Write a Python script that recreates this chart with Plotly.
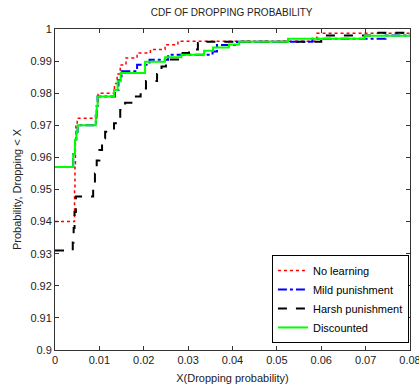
import plotly.graph_objects as go

# Step CDF data (x = dropping probability, p = CDF value after step)
x_no = [0, 0.0044, 0.0045, 0.0046, 0.0047, 0.0050, 0.0094, 0.0097, 0.0134, 0.0140,
        0.0147, 0.0160, 0.0185, 0.0215, 0.0248, 0.0277, 0.0590, 0.08]
p_no = [0.940, 0.950, 0.958, 0.965, 0.970, 0.9722, 0.976, 0.980, 0.983, 0.986,
        0.9888, 0.991, 0.9925, 0.9936, 0.9951, 0.9962, 0.9987, 0.9987]

x_mild = [0, 0.0041, 0.0045, 0.0048, 0.0051, 0.0092, 0.0094, 0.0096, 0.0135, 0.0143,
          0.0150, 0.0185, 0.0213, 0.0255, 0.0355, 0.0365, 0.0410, 0.0580, 0.0745, 0.08]
p_mild = [0.957, 0.961, 0.965, 0.968, 0.970, 0.973, 0.976, 0.979, 0.981, 0.984,
          0.9868, 0.9889, 0.9904, 0.992, 0.993, 0.995, 0.996, 0.997, 0.998, 0.998]

x_harsh = [0, 0.0040, 0.0042, 0.0044, 0.0047, 0.0086, 0.0090, 0.0094, 0.0100, 0.0106,
           0.0113, 0.0133, 0.0147, 0.0158, 0.0178, 0.0193, 0.0205, 0.0230, 0.0240,
           0.0250, 0.0285, 0.0302, 0.0322, 0.0335, 0.0600, 0.0710, 0.08]
p_harsh = [0.931, 0.9335, 0.938, 0.943, 0.9478, 0.951, 0.955, 0.959, 0.9623, 0.966,
           0.968, 0.9706, 0.9748, 0.977, 0.979, 0.9815, 0.9838, 0.986, 0.9883,
           0.9905, 0.9925, 0.9936, 0.9956, 0.996, 0.998, 0.9988, 0.9988]

x_disc = [0, 0.0041, 0.0045, 0.0048, 0.0051, 0.0092, 0.0094, 0.0096, 0.0133, 0.0141,
          0.0148, 0.0203, 0.0248, 0.0285, 0.0336, 0.0356, 0.0392, 0.0415, 0.0525,
          0.0698, 0.08]
p_disc = [0.957, 0.961, 0.9655, 0.968, 0.970, 0.973, 0.976, 0.979, 0.981, 0.9837,
          0.9863, 0.9898, 0.9912, 0.9920, 0.9932, 0.9942, 0.9952, 0.996, 0.997,
          0.9979, 0.9979]

x_ticks = [0, 0.01, 0.02, 0.03, 0.04, 0.05, 0.06, 0.07, 0.08]
x_tick_labels = ["0", "0.01", "0.02", "0.03", "0.04", "0.05", "0.06", "0.07", "0.08"]
y_ticks = [0.9, 0.91, 0.92, 0.93, 0.94, 0.95, 0.96, 0.97, 0.98, 0.99, 1.0]
y_tick_labels = ["0.9", "0.91", "0.92", "0.93", "0.94", "0.95", "0.96", "0.97",
                 "0.98", "0.99", "1"]

series = [
    ("No learning", x_no, p_no, "#ff0000", "dot", 1.5),
    ("Mild punishment", x_mild, p_mild, "#0000ff", "dashdot", 2),
    ("Harsh punishment", x_harsh, p_harsh, "#000000", "dash", 2),
    ("Discounted", x_disc, p_disc, "#00ff00", "solid", 2),
]

fig = go.Figure()
for name, xs, ps, color, dash, w in series:
    fig.add_trace(go.Scatter(
        x=xs, y=ps, mode="lines", name=name,
        line=dict(color=color, dash=dash, width=w, shape="hv"),
    ))

font_family = "Liberation Sans, Arial, sans-serif"
axis_common = dict(
    showgrid=False, zeroline=False, showline=True, linecolor="#333333",
    linewidth=1, mirror="ticks", ticks="inside", ticklen=4, automargin=False,
    ticklabeloverflow="allow",
    tickcolor="#333333", tickfont=dict(family=font_family, size=11, color="#222222"),
)

fig.update_layout(
    width=419, height=389,
    margin=dict(l=55, r=9, t=29, b=39),
    paper_bgcolor="white", plot_bgcolor="white",
    title=dict(text="CDF OF DROPPING PROBABILITY", x=0.553, xanchor="center",
               yref="container", y=0.967, yanchor="middle",
               font=dict(family=font_family, size=10, color="#222222")),
    xaxis=dict(range=[0, 0.08], tickvals=x_ticks, ticktext=x_tick_labels,
               title=dict(text="X(Dropping probability)", standoff=9,
                          font=dict(family=font_family, size=11, color="#222222")),
               **axis_common),
    yaxis=dict(range=[0.9, 1.0], tickvals=y_ticks, ticktext=y_tick_labels,
               title=dict(text="Probability, Dropping < X", standoff=6,
                          font=dict(family=font_family, size=11, color="#222222")),
               **axis_common),
    legend=dict(x=0.997, y=0.022, xanchor="right", yanchor="bottom",
                bgcolor="white", bordercolor="#000000", borderwidth=1,
                font=dict(family=font_family, size=11, color="#000000"),
                tracegroupgap=0, itemwidth=30),
    showlegend=True,
)

fig.write_html("out.html",
               config={"displayModeBar": False},
               post_script="document.body.style.margin='0';document.body.style.overflow='hidden';")
